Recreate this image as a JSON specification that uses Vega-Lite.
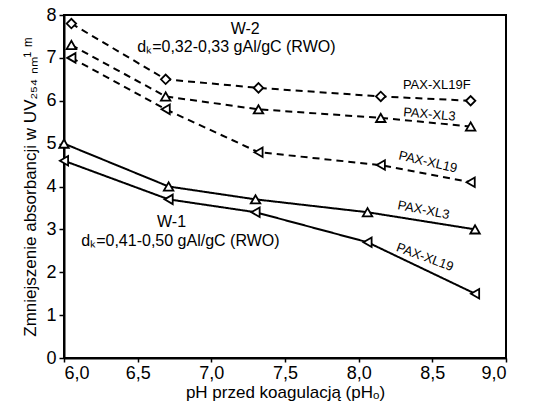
{
  "$schema": "https://vega.github.io/schema/vega-lite/v6.json",
  "width": 442,
  "height": 343,
  "autosize": {"type": "none"},
  "padding": {"left": 64, "top": 15, "right": 39, "bottom": 50},
  "background": "white",
  "config": {
    "font": "Liberation Sans",
    "view": {"stroke": "black", "strokeWidth": 2},
    "axis": {"grid": false, "domainColor": "black", "domainWidth": 2, "tickColor": "black", "tickWidth": 1.5, "labelColor": "black", "titleColor": "black", "labelFont": "Liberation Sans", "titleFont": "Liberation Sans", "titleFontWeight": "normal"}
  },
  "datasets": {
    "series": [
      {"series": "W2-XL19F", "grp": "W-2", "marker": "diamond", "ph": 6.05, "v": 7.8},
      {"series": "W2-XL19F", "grp": "W-2", "marker": "diamond", "ph": 6.69, "v": 6.5},
      {"series": "W2-XL19F", "grp": "W-2", "marker": "diamond", "ph": 7.32, "v": 6.3},
      {"series": "W2-XL19F", "grp": "W-2", "marker": "diamond", "ph": 8.15, "v": 6.1},
      {"series": "W2-XL19F", "grp": "W-2", "marker": "diamond", "ph": 8.76, "v": 6.0},
      {"series": "W2-XL3", "grp": "W-2", "marker": "up", "ph": 6.05, "v": 7.3},
      {"series": "W2-XL3", "grp": "W-2", "marker": "up", "ph": 6.69, "v": 6.1},
      {"series": "W2-XL3", "grp": "W-2", "marker": "up", "ph": 7.32, "v": 5.8},
      {"series": "W2-XL3", "grp": "W-2", "marker": "up", "ph": 8.15, "v": 5.6},
      {"series": "W2-XL3", "grp": "W-2", "marker": "up", "ph": 8.76, "v": 5.4},
      {"series": "W2-XL19", "grp": "W-2", "marker": "left", "ph": 6.05, "v": 7.0},
      {"series": "W2-XL19", "grp": "W-2", "marker": "left", "ph": 6.69, "v": 5.8},
      {"series": "W2-XL19", "grp": "W-2", "marker": "left", "ph": 7.32, "v": 4.8},
      {"series": "W2-XL19", "grp": "W-2", "marker": "left", "ph": 8.15, "v": 4.5},
      {"series": "W2-XL19", "grp": "W-2", "marker": "left", "ph": 8.76, "v": 4.1},
      {"series": "W1-XL3", "grp": "W-1", "marker": "up", "ph": 6.0, "v": 5.0},
      {"series": "W1-XL3", "grp": "W-1", "marker": "up", "ph": 6.71, "v": 4.0},
      {"series": "W1-XL3", "grp": "W-1", "marker": "up", "ph": 7.3, "v": 3.7},
      {"series": "W1-XL3", "grp": "W-1", "marker": "up", "ph": 8.06, "v": 3.4},
      {"series": "W1-XL3", "grp": "W-1", "marker": "up", "ph": 8.79, "v": 3.0},
      {"series": "W1-XL19", "grp": "W-1", "marker": "left", "ph": 6.0, "v": 4.6},
      {"series": "W1-XL19", "grp": "W-1", "marker": "left", "ph": 6.71, "v": 3.7},
      {"series": "W1-XL19", "grp": "W-1", "marker": "left", "ph": 7.3, "v": 3.4},
      {"series": "W1-XL19", "grp": "W-1", "marker": "left", "ph": 8.06, "v": 2.7},
      {"series": "W1-XL19", "grp": "W-1", "marker": "left", "ph": 8.79, "v": 1.5}
    ]
  },
  "layer": [
    {
      "data": {"name": "series"},
      "mark": {"type": "line", "color": "black", "strokeWidth": 2},
      "encoding": {
        "x": {"field": "ph", "type": "quantitative", "scale": {"domain": [6, 9], "nice": false},
          "axis": {"values": [6, 6.5, 7, 7.5, 8, 8.5, 9], "labelExpr": "replace(format(datum.value, '.1f'), '.', ',')", "labelFontSize": 18, "tickSize": 4, "labelPadding": 2, "title": "pH przed koagulacją (pHₒ)", "titleFontSize": 17, "titlePadding": 2}},
        "y": {"field": "v", "type": "quantitative", "scale": {"domain": [0, 8], "nice": false},
          "axis": {"values": [0, 1, 2, 3, 4, 5, 6, 7, 8], "labelFontSize": 18, "tickSize": 5, "labelPadding": 3, "title": "Zmniejszenie absorbancji w UV₂₅₄ ₙₘ¹ ᵐ", "titleFontSize": 17, "titlePadding": 6}},
        "detail": {"field": "series"},
        "strokeDash": {"field": "grp", "type": "nominal", "scale": {"domain": ["W-1", "W-2"], "range": [[1, 0], [7, 5]]}, "legend": null}
      }
    },
    {
      "data": {"name": "series"},
      "mark": {"type": "point", "filled": true, "fill": "white", "stroke": "black", "strokeWidth": 1.8, "size": 90, "opacity": 1},
      "encoding": {
        "x": {"field": "ph", "type": "quantitative"},
        "y": {"field": "v", "type": "quantitative"},
        "shape": {"field": "marker", "type": "nominal", "scale": {"domain": ["diamond", "up", "left"], "range": ["diamond", "triangle-up", "triangle-left"]}, "legend": null}
      }
    },
    {
      "data": {"values": [
        {"t": "W-2", "ph": 7.23, "v": 7.68},
        {"t": "dₖ=0,32-0,33 gAl/gC (RWO)", "ph": 7.17, "v": 7.25},
        {"t": "W-1", "ph": 6.73, "v": 3.18},
        {"t": "dₖ=0,41-0,50 gAl/gC (RWO)", "ph": 6.79, "v": 2.74}
      ]},
      "mark": {"type": "text", "fontSize": 16, "color": "black", "align": "center", "baseline": "middle"},
      "encoding": {"x": {"field": "ph", "type": "quantitative"}, "y": {"field": "v", "type": "quantitative"}, "text": {"field": "t"}}
    },
    {
      "data": {"values": [{"t": "PAX-XL19F", "ph": 8.53, "v": 6.36}]},
      "mark": {"type": "text", "fontSize": 13, "color": "black", "align": "center", "baseline": "middle"},
      "encoding": {"x": {"field": "ph", "type": "quantitative"}, "y": {"field": "v", "type": "quantitative"}, "text": {"field": "t"}}
    },
    {
      "data": {"values": [{"t": "PAX-XL3", "ph": 8.48, "v": 5.68}]},
      "mark": {"type": "text", "fontSize": 13, "color": "black", "align": "center", "baseline": "middle", "angle": 5},
      "encoding": {"x": {"field": "ph", "type": "quantitative"}, "y": {"field": "v", "type": "quantitative"}, "text": {"field": "t"}}
    },
    {
      "data": {"values": [{"t": "PAX-XL19", "ph": 8.47, "v": 4.57}]},
      "mark": {"type": "text", "fontSize": 13, "color": "black", "align": "center", "baseline": "middle", "angle": 13},
      "encoding": {"x": {"field": "ph", "type": "quantitative"}, "y": {"field": "v", "type": "quantitative"}, "text": {"field": "t"}}
    },
    {
      "data": {"values": [{"t": "PAX-XL3", "ph": 8.44, "v": 3.45}]},
      "mark": {"type": "text", "fontSize": 13, "color": "black", "align": "center", "baseline": "middle", "angle": 11},
      "encoding": {"x": {"field": "ph", "type": "quantitative"}, "y": {"field": "v", "type": "quantitative"}, "text": {"field": "t"}}
    },
    {
      "data": {"values": [{"t": "PAX-XL19", "ph": 8.45, "v": 2.35}]},
      "mark": {"type": "text", "fontSize": 13, "color": "black", "align": "center", "baseline": "middle", "angle": 20},
      "encoding": {"x": {"field": "ph", "type": "quantitative"}, "y": {"field": "v", "type": "quantitative"}, "text": {"field": "t"}}
    }
  ]
}
